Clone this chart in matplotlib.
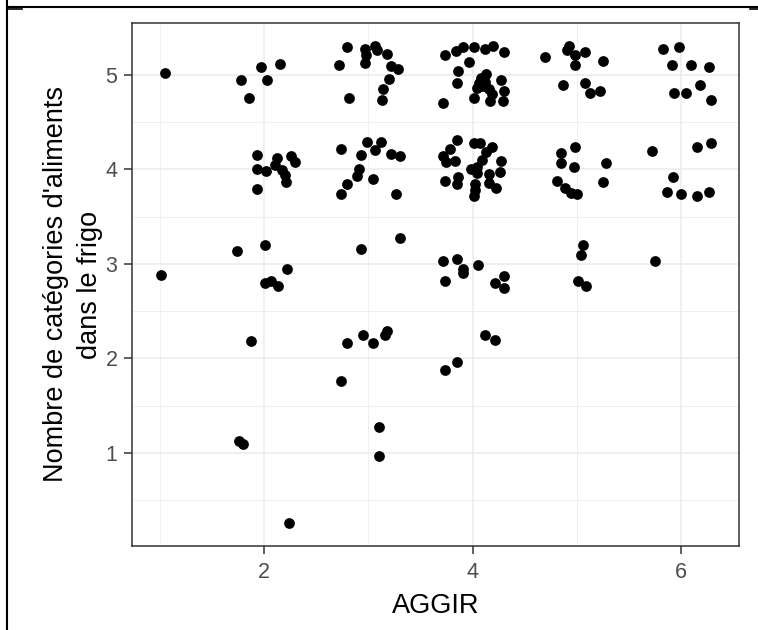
import matplotlib.pyplot as plt
from matplotlib.lines import Line2D

plt.rcParams['font.family'] = ['Liberation Sans', 'DejaVu Sans']

# jittered AGGIR score vs number of food categories in the fridge
aggir = [
    # around 5 categories
    1.05, 1.97, 2.15, 1.78, 2.03, 1.86, 2.72, 2.80, 2.97, 3.06, 3.08, 2.98, 2.97,
    3.18, 3.22, 3.29, 3.20, 3.14, 3.13, 2.82, 3.74, 3.84, 3.91, 4.01, 4.12, 4.20,
    4.30, 3.97, 3.86, 3.85, 4.13, 4.06, 4.10, 4.16, 4.27, 4.30, 4.01, 4.17, 4.29,
    3.72, 4.08, 4.12, 4.04, 4.19, 4.70, 4.93, 4.91, 4.98, 5.08, 4.98, 5.25, 4.87,
    5.08, 5.13, 5.22, 5.83, 5.98, 5.91, 6.10, 6.27, 5.93, 6.05, 6.18, 6.29,
    # around 4
    1.93, 2.12, 2.26, 2.30, 1.93, 2.02, 2.11, 2.17, 2.20, 2.21, 1.93, 2.74, 2.74,
    2.99, 3.12, 3.06, 2.93, 3.22, 3.30, 2.91, 2.89, 3.05, 2.80, 3.27, 3.85, 3.78,
    3.72, 3.75, 3.83, 4.01, 4.07, 4.19, 4.13, 4.09, 4.04, 3.99, 4.04, 4.27, 4.26,
    4.16, 3.74, 3.86, 3.85, 4.02, 4.02, 4.01, 4.16, 4.23, 4.98, 4.85, 4.85, 4.97,
    5.28, 5.25, 4.81, 4.89, 4.94, 5.00, 5.72, 6.15, 6.29, 5.92, 5.87, 6.00, 6.15,
    6.27,
    # around 3
    2.01, 1.74, 2.22, 1.01, 2.01, 2.07, 2.13, 3.30, 2.93, 3.72, 3.85, 3.91, 3.91,
    4.05, 3.74, 4.30, 4.22, 4.30, 5.06, 5.04, 5.01, 5.09, 5.75,
    # around 2
    1.88, 2.80, 2.95, 3.05, 3.16, 3.18, 4.12, 4.22, 3.85, 3.74, 2.74,
    # around 1 and 0
    1.76, 1.80, 3.10, 3.10, 2.24,
]
n_categories = [
    5.02, 5.08, 5.12, 4.95, 4.95, 4.76, 5.11, 5.30, 5.28, 5.31, 5.26, 5.21, 5.13,
    5.22, 5.09, 5.06, 4.96, 4.85, 4.74, 4.76, 5.21, 5.25, 5.30, 5.30, 5.27, 5.31,
    5.24, 5.14, 5.04, 4.92, 5.01, 4.91, 4.88, 4.85, 4.95, 4.83, 4.76, 4.72, 4.72,
    4.70, 4.97, 4.93, 4.86, 4.80, 5.19, 5.31, 5.26, 5.21, 5.24, 5.11, 5.15, 4.89,
    4.92, 4.81, 4.83, 5.27, 5.30, 5.11, 5.11, 5.08, 4.81, 4.81, 4.89, 4.74,
    4.15, 4.12, 4.14, 4.08, 4.01, 3.98, 4.05, 3.99, 3.94, 3.87, 3.79, 3.74, 4.22,
    4.29, 4.29, 4.21, 4.15, 4.16, 4.14, 4.01, 3.93, 3.90, 3.85, 3.74, 4.31, 4.22,
    4.14, 4.08, 4.09, 4.28, 4.28, 4.24, 4.19, 4.10, 4.03, 4.01, 3.96, 4.09, 3.97,
    3.95, 3.88, 3.92, 3.85, 3.85, 3.78, 3.72, 3.86, 3.80, 4.24, 4.17, 4.07, 4.03,
    4.07, 3.87, 3.88, 3.80, 3.75, 3.74, 4.20, 4.24, 4.28, 3.92, 3.76, 3.74, 3.72,
    3.76,
    3.20, 3.14, 2.95, 2.88, 2.80, 2.82, 2.77, 3.28, 3.16, 3.03, 3.05, 2.95, 2.90,
    2.99, 2.82, 2.87, 2.80, 2.75, 3.20, 3.10, 2.82, 2.77, 3.03,
    2.19, 2.16, 2.25, 2.16, 2.25, 2.29, 2.25, 2.20, 1.96, 1.88, 1.76,
    1.13, 1.10, 1.28, 0.97, 0.26,
]

x_ticks = [2, 4, 6]
y_ticks = [1, 2, 3, 4, 5]

W, H = 758, 630
fig = plt.figure(figsize=(W / 100, H / 100), dpi=100)
ax = fig.add_axes([132 / W, 1 - 546 / H, (739 - 132) / W, (546 - 23) / H])

ax.scatter(aggir, n_categories, s=60, color='black', linewidths=0, zorder=3)

ax.set_xlim(0.734, 6.556)
ax.set_ylim(0.016, 5.55)
ax.set_xticks(x_ticks)
ax.set_xticks([1, 3, 5], minor=True)
ax.set_yticks(y_ticks)
ax.set_yticks([0.5, 1.5, 2.5, 3.5, 4.5], minor=True)

ax.grid(which='major', color='#EBEBEB', linewidth=1.1, zorder=0)
ax.grid(which='minor', color='#EBEBEB', linewidth=0.55, zorder=0)
ax.set_axisbelow(True)

for sp in ax.spines.values():
    sp.set_color('#333333')
    sp.set_linewidth(1.1)

ax.tick_params(which='major', length=5.5, width=1.1, color='#333333',
               labelsize=15.5, labelcolor='#4D4D4D')
ax.tick_params(axis='x', pad=5.8)
ax.tick_params(axis='y', pad=5)
ax.tick_params(which='minor', length=0)

ax.set_xlabel('AGGIR', fontsize=19.5, labelpad=7.5)
ax.set_ylabel("Nombre de catégories d'aliments\ndans le frigo", fontsize=19.5,
              labelpad=1.5, linespacing=1.4)

# border lines around the figure
fig.add_artist(Line2D([7 / W, 1], [1 - 7 / H, 1 - 7 / H], color='black', lw=1.5))
fig.add_artist(Line2D([7 / W, 7 / W], [0, 1], color='black', lw=1.5))
fig.add_artist(Line2D([7 / W, 22 / W], [1 - 9 / H, 1 - 9 / H], color='black', lw=1.2))
fig.add_artist(Line2D([750 / W, 1], [1 - 9 / H, 1 - 9 / H], color='black', lw=1.2))

fig.savefig('out.png', dpi=100)
